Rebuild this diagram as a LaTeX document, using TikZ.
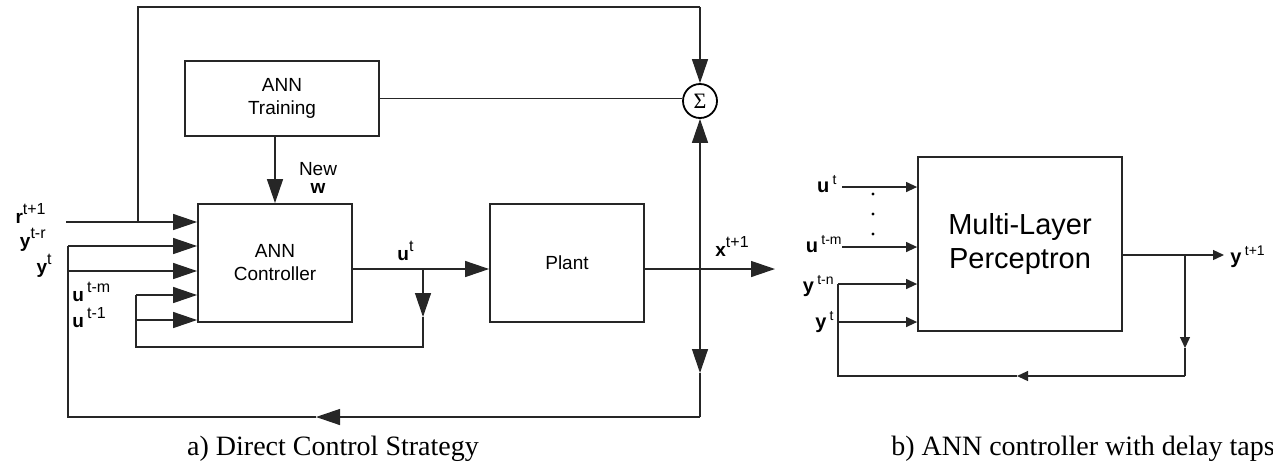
\documentclass[tikz,border=0pt]{standalone}
\usepackage{fontspec}
\setmainfont{Liberation Serif}
\setsansfont{Liberation Sans}
\usetikzlibrary{arrows.meta}
\newcommand{\sups}[1]{\raisebox{0.8ex}{\footnotesize #1}}

\begin{document}
\begin{tikzpicture}[
  x=0.5pt, y=-0.5pt,
  font=\sffamily\fontsize{9.5}{11.5}\selectfont,
  blk/.style={rectangle, draw=black!85, line width=0.9pt, inner sep=2pt, align=center},
  sum/.style={circle, draw=black, line width=0.9pt, minimum size=17pt, inner sep=0pt,
              font=\rmfamily\fontsize{11}{13}\selectfont},
  lbl/.style={inner sep=0pt},
  wire/.style={draw=black!85, line width=0.65pt},
  arr/.style={wire, -{Triangle[length=12pt, width=8pt]}},
  sarr/.style={wire, -{Triangle[length=5.5pt, width=5pt]}},
  captxt/.style={inner sep=0pt, anchor=base, font=\rmfamily\fontsize{14}{16}\selectfont}
]
\useasboundingbox (0,0) rectangle (1273,463);

% direct control strategy
\node[blk, minimum width=97pt, minimum height=37.5pt] (train) at (282,98.5) {ANN\\Training};
\node[blk, minimum width=77pt, minimum height=59pt] (ctrl) at (275,263) {ANN\\Controller};
\node[blk, minimum width=77pt, minimum height=59pt] (plant) at (567,263) {Plant};
\node[sum] (sig) at (700,101) {Σ};

\coordinate (rin) at (66,222);
\coordinate (rtap) at (138,222);
\coordinate (tl) at (138,7);
\coordinate (tr) at (700,7);
\coordinate (yr) at (68,246);
\coordinate (yt) at (68,271);
\coordinate (um) at (136,295);
\coordinate (u1) at (136,320);
\coordinate (ulb) at (136,347);
\coordinate (ub) at (423,347);
\coordinate (ut) at (423,269);
\coordinate (umark) at (423,317);
\coordinate (xout) at (775,269);
\coordinate (tap) at (700,269);
\coordinate (dmark) at (700,373);
\coordinate (br) at (700,417);
\coordinate (lmark) at (316,417);
\coordinate (bl) at (68,417);

\draw[arr] (rin) -- (ctrl.west |- rin);
\draw[wire] (rtap) -- (tl) -- (tr);
\draw[arr] (tr) -- (sig.north);
\draw[wire] (train.east) -- (sig.west |- train.east);
\draw[arr] (ctrl.north |- train.south) -- (ctrl.north);
\draw[arr] (ctrl.east |- ut) -- (plant.west |- ut);
\draw[arr] (ut) -- (umark);
\draw[wire] (umark) -- (ub) -- (ulb) -- (um);
\draw[arr] (um) -- (ctrl.west |- um);
\draw[arr] (u1) -- (ctrl.west |- u1);
\draw[arr] (plant.east |- ut) -- (xout);
\draw[arr] (tap) -- (sig.south);
\draw[arr] (tap) -- (dmark);
\draw[wire] (dmark) -- (br);
\draw[arr] (br) -- (lmark);
\draw[wire] (lmark) -- (bl) -- (yr);
\draw[arr] (yr) -- (ctrl.west |- yr);
\draw[arr] (yt) -- (ctrl.west |- yt);

\node[lbl, anchor=base east] (lr) at (46,223) {\textbf{r}\sups{t+1}};
\node[lbl, anchor=base east] (lyr) at (46,247) {\textbf{y}\sups{t-r}};
\node[lbl, anchor=base east] (lyt) at (52,273) {\textbf{y}\sups{t}};
\node[lbl, anchor=base west] (lum) at (72,301) {\textbf{u}\,\sups{t-m}};
\node[lbl, anchor=base west] (lu1) at (72,327) {\textbf{u}\,\sups{t-1}};
\node[lbl, anchor=base] (lnew) at (318,175) {New};
\node[lbl, anchor=base] (lw) at (318,193) {\textbf{w}};
\node[lbl, anchor=base west] (lut) at (397,260) {\textbf{u}\sups{t}};
\node[lbl, anchor=base west] (lx) at (715,256) {\textbf{x}\sups{t+1}};

% delay taps
\node[blk, minimum width=102pt, minimum height=87pt, font=\sffamily\fontsize{14.5}{17}\selectfont] (mlp) at (1020,244) {Multi-Layer\\Perceptron};

\coordinate (mu) at (842,187);
\coordinate (mum) at (842,247);
\coordinate (myn) at (838,284);
\coordinate (myt) at (838,322);
\coordinate (mtap) at (1185,255);
\coordinate (myo) at (1224,255);
\coordinate (mdown) at (1185,348);
\coordinate (mbr) at (1185,376);
\coordinate (mleft) at (1017,376);
\coordinate (mbl) at (838,376);

\draw[sarr] (mu) -- (mlp.west |- mu);
\draw[sarr] (mum) -- (mlp.west |- mum);
\draw[sarr] (myn) -- (mlp.west |- myn);
\draw[sarr] (myt) -- (mlp.west |- myt);
\draw[sarr] (mlp.east |- mtap) -- (myo);
\draw[sarr] (mtap) -- (mdown);
\draw[wire] (mdown) -- (mbr);
\draw[sarr] (mbr) -- (mleft);
\draw[wire] (mleft) -- (mbl) -- (myn);
\foreach \y in {194,214,234}
  \fill (873,\y) circle (0.8pt);

\node[lbl, anchor=base east, font=\sffamily\fontsize{10}{12}\selectfont] (mlu) at (838,192) {\textbf{u}\,\textsuperscript{t}};
\node[lbl, anchor=base east, font=\sffamily\fontsize{10}{12}\selectfont] (mlum) at (843,252) {\textbf{u}\,\textsuperscript{t-m}};
\node[lbl, anchor=base east, font=\sffamily\fontsize{10}{12}\selectfont] (mlyn) at (835,292) {\textbf{y}\,\textsuperscript{t-n}};
\node[lbl, anchor=base east, font=\sffamily\fontsize{10}{12}\selectfont] (mlyt) at (835,328) {\textbf{y}\,\textsuperscript{t}};
\node[lbl, anchor=base west, font=\sffamily\fontsize{10}{12}\selectfont] (mlyo) at (1230,263) {\textbf{y}\,\textsuperscript{t+1}};

% captions
\node[captxt] (capa) at (333,455) {a) Direct Control Strategy};
\node[captxt] (capb) at (1083,455) {b) ANN controller with delay taps};
\end{tikzpicture}
\end{document}
